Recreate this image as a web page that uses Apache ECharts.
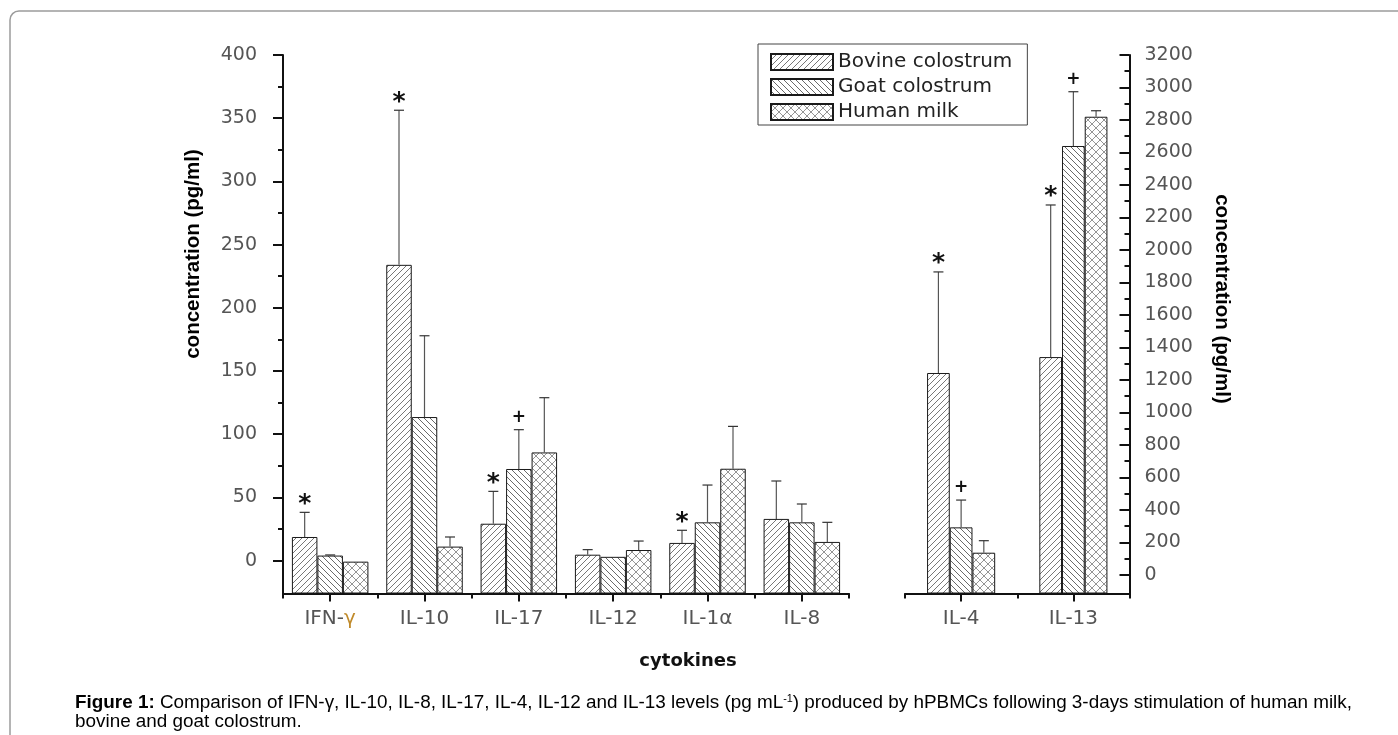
<!DOCTYPE html>
<html><head><meta charset="utf-8">
<script src="https://cdn.jsdelivr.net/npm/echarts@6/dist/echarts.min.js"></script>
<style>html,body{margin:0;padding:0;background:#fff}#c{width:1398px;height:735px}</style>
</head><body><div id="c"></div>
<script>
// ---------------- data ----------------
const leftCats = ['IFN-γ', 'IL-10', 'IL-17', 'IL-12', 'IL-1α', 'IL-8'];
const rightCats = ['IL-4', 'IL-13'];
const seriesNames = ['Bovine colostrum', 'Goat colostrum', 'Human milk'];

// left axis values (pg/ml)
const bovineLeft = [18.7, 234, 29.2, 4.7, 14.0, 33.0];
const goatLeft = [4.0, 113.6, 72.5, 3.0, 30.3, 30.3];
const humanLeft = [-0.8, 11.1, 85.6, 8.4, 72.7, 14.8];
const bovineLeftSD = [19.5, 122.3, 25.6, 4.0, 10.0, 30.0];
const goatLeftSD = [0.5, 64.3, 31.1, 0, 29.5, 14.5];
const humanLeftSD = [0, 7.6, 43.3, 7.1, 33.5, 15.5];
const bovineLeftMark = ['*', '*', '*', '', '*', ''];
const goatLeftMark = ['', '', '+', '', '', ''];
const humanLeftMark = ['', '', '', '', '', ''];

// right axis values (pg/ml)
const bovineRight = [1243, 1341];
const goatRight = [293, 2640];
const humanRight = [137, 2820];
const bovineRightSD = [622, 936];
const goatRightSD = [168, 334];
const humanRightSD = [74, 37];
const bovineRightMark = ['*', '*'];
const goatRightMark = ['+', '+'];
const humanRightMark = ['', ''];

// axes
const leftMin = -26, leftMax = 400;
const rightMin = -114, rightMax = 3200;
const leftTicks = [0, 50, 100, 150, 200, 250, 300, 350, 400];
const leftMinorTicks = [25, 75, 125, 175, 225, 275, 325, 375];
const rightTicks = [0, 200, 400, 600, 800, 1000, 1200, 1400, 1600, 1800, 2000, 2200, 2400, 2600, 2800, 3000, 3200];
const rightMinorTicks = [100, 300, 500, 700, 900, 1100, 1300, 1500, 1700, 1900, 2100, 2300, 2500, 2700, 2900, 3100];

const captionBold = 'Figure 1:';
const captionLine1 = ' Comparison of IFN-γ, IL-10, IL-8, IL-17, IL-4, IL-12 and IL-13 levels (pg mL';
const captionSup = '-1';
const captionLine1b = ') produced by hPBMCs following 3-days stimulation of human milk,';
const captionLine2 = 'bovine and goat colostrum.';

// ---------------- styling helpers ----------------
function hatch(kind, s, color, lw) {
  const c = document.createElement('canvas');
  c.width = s; c.height = s;
  const g = c.getContext('2d');
  g.fillStyle = '#fff'; g.fillRect(0, 0, s, s);
  g.strokeStyle = color; g.lineWidth = lw;
  const draw = (dir) => {
    for (let k = -1; k <= 1; k++) {
      g.beginPath();
      if (dir > 0) { g.moveTo(k * s, s); g.lineTo(k * s + s, 0); }
      else { g.moveTo(k * s, 0); g.lineTo(k * s + s, s); }
      g.stroke();
    }
  };
  if (kind === '/' || kind === 'x') draw(1);
  if (kind === '\\' || kind === 'x') draw(-1);
  return c;
}
const patterns = [
  { image: hatch('/', 6, '#555', 0.8), repeat: 'repeat' },
  { image: hatch('\\', 6, '#444', 0.8), repeat: 'repeat' },
  { image: hatch('x', 8, '#7a7a7a', 0.8), repeat: 'repeat' }
];

const BW_L = 25.5, BW_R = 22.7;
const FONT = 'DejaVu Sans';

function barSeries(name, data, k, xi, yi, bw) {
  return {
    type: 'bar', name, data, xAxisIndex: xi, yAxisIndex: yi,
    barWidth: bw, barGap: '0%',
    itemStyle: { color: patterns[k], borderColor: '#1a1a1a', borderWidth: 1 },
    z: 2
  };
}
function errSeries(means, sds, marks, k, xi, yi, bw) {
  const data = means.map((m, i) => [i, m, m + sds[i]]);
  return {
    type: 'custom', xAxisIndex: xi, yAxisIndex: yi, z: 5, silent: true,
    data,
    renderItem(params, api) {
      const i = api.value(0);
      const top = api.coord([i, api.value(2)]);
      const base = api.coord([i, api.value(1)]);
      const x = top[0] + (k - 1) * bw;
      const children = [];
      if (api.value(2) > api.value(1)) {
        children.push({ type: 'line', shape: { x1: x, y1: base[1], x2: x, y2: top[1] }, style: { stroke: '#555', lineWidth: 1.2 } });
        children.push({ type: 'line', shape: { x1: x - 5, y1: top[1], x2: x + 5, y2: top[1] }, style: { stroke: '#333', lineWidth: 1.2 } });
      }
      const mk = marks[params.dataIndex];
      if (mk) {
        const dy = mk === '*' ? 8 : 12;
        children.push({ type: 'text', x: x, y: top[1] - dy,
          style: { text: mk, font: mk === '*' ? 'bold 25px "DejaVu Sans"' : 'bold 17px "DejaVu Sans"', fill: '#111', align: 'center', verticalAlign: 'middle' } });
      }
      return { type: 'group', children };
    }
  };
}

function catAxis(gi, data, main) {
  return {
    type: 'category', gridIndex: gi, data, position: 'bottom',
    axisLine: { show: main, onZero: false, lineStyle: { color: '#111', width: 2 } },
    axisTick: { show: true, interval: 0, alignWithLabel: main, length: main ? 8 : 5, lineStyle: { color: '#111', width: 2 } },
    axisLabel: {
      show: main, interval: 0, margin: 15, color: '#555', fontFamily: FONT, fontSize: 20,
      formatter: v => v.replace('γ', '{g|γ}'),
      rich: { g: { color: '#c08a2a', fontFamily: FONT, fontSize: 20 } }
    },
    splitLine: { show: false }
  };
}
function valAxis(gi, pos, min, max, ticks, main, inside, margin) {
  return {
    type: 'value', gridIndex: gi, position: pos, min, max, startValue: min,
    splitNumber: main ? (pos === 'left' ? 8 : 16) : 16,
    axisLine: { show: main, onZero: false, lineStyle: { color: '#111', width: 2 } },
    axisTick: { show: true, inside, length: main ? 10 : 5, customValues: ticks, lineStyle: { color: '#111', width: 2 } },
    axisLabel: { show: main, customValues: main ? ticks : undefined, margin, color: '#555', fontFamily: FONT, fontSize: 19,
      formatter: v => (v < 0 ? '' : String(v)) },
    splitLine: { show: false }
  };
}

// caption width fit
const CAP_FS = 17.5;
const mctx = document.createElement('canvas').getContext('2d');
mctx.font = 'bold ' + CAP_FS + 'px "Liberation Sans"';
let cw = mctx.measureText(captionBold).width;
mctx.font = CAP_FS + 'px "Liberation Sans"';
cw += mctx.measureText(captionLine1 + captionLine1b).width;
mctx.font = '10px "Liberation Sans"';
cw += mctx.measureText(captionSup).width;
const capScale = 1277 / cw;

const chart = echarts.init(document.getElementById('c'), null, { renderer: 'canvas' });
chart.setOption({
  animation: false,
  backgroundColor: '#fff',
  grid: [
    { left: 283, right: 549, top: 55, bottom: 141.5, containLabel: false },
    { left: 905, right: 268.5, top: 55, bottom: 141.5, containLabel: false }
  ],
  xAxis: [catAxis(0, leftCats, true), catAxis(0, leftCats, false), catAxis(1, rightCats, true), catAxis(1, rightCats, false)],
  yAxis: [
    valAxis(0, 'left', leftMin, leftMax, leftTicks, true, false, 26),
    valAxis(0, 'left', leftMin, leftMax, leftMinorTicks, false, false, 26),
    valAxis(1, 'right', rightMin, rightMax, rightTicks, true, true, 15),
    valAxis(1, 'right', rightMin, rightMax, rightMinorTicks, false, true, 15)
  ],
  legend: {
    data: seriesNames, orient: 'vertical', left: 758, top: 44,
    padding: [8, 15, 3, 12], itemGap: 5, itemWidth: 62, itemHeight: 16,
    borderColor: '#444', borderWidth: 1, selectedMode: false, icon: 'rect',
    textStyle: { fontFamily: FONT, fontSize: 20, color: '#222' }
  },
  series: [
    barSeries(seriesNames[0], bovineLeft, 0, 0, 0, BW_L),
    barSeries(seriesNames[1], goatLeft, 1, 0, 0, BW_L),
    barSeries(seriesNames[2], humanLeft, 2, 0, 0, BW_L),
    barSeries(seriesNames[0], bovineRight, 0, 2, 2, BW_R),
    barSeries(seriesNames[1], goatRight, 1, 2, 2, BW_R),
    barSeries(seriesNames[2], humanRight, 2, 2, 2, BW_R),
    errSeries(bovineLeft, bovineLeftSD, bovineLeftMark, 0, 0, 0, BW_L),
    errSeries(goatLeft, goatLeftSD, goatLeftMark, 1, 0, 0, BW_L),
    errSeries(humanLeft, humanLeftSD, humanLeftMark, 2, 0, 0, BW_L),
    errSeries(bovineRight, bovineRightSD, bovineRightMark, 0, 2, 2, BW_R),
    errSeries(goatRight, goatRightSD, goatRightMark, 1, 2, 2, BW_R),
    errSeries(humanRight, humanRightSD, humanRightMark, 2, 2, 2, BW_R)
  ],
  graphic: [
    { type: 'rect', shape: { x: 10, y: 11, width: 1500, height: 800, r: 9 }, style: { fill: 'none', stroke: '#9c9c9c', lineWidth: 1.5 }, z: -1, silent: true },
    { type: 'text', x: 193, y: 254, rotation: Math.PI / 2, style: { text: 'concentration (pg/ml)', font: 'bold 20.5px "Liberation Sans"', fill: '#000', align: 'center', verticalAlign: 'middle' } },
    { type: 'text', x: 1222, y: 299, rotation: -Math.PI / 2, style: { text: 'concentration (pg/ml)', font: 'bold 20.5px "Liberation Sans"', fill: '#000', align: 'center', verticalAlign: 'middle' } },
    { type: 'text', x: 688, y: 661, style: { text: 'cytokines', font: 'bold 18px "DejaVu Sans"', fill: '#111', align: 'center', verticalAlign: 'middle' } },
    { type: 'text', x: 75, y: 703.5, scaleX: capScale,
      style: { text: '{b|' + captionBold + '}' + captionLine1 + '{s|' + captionSup + '}' + captionLine1b,
        font: CAP_FS + 'px "Liberation Sans"', fill: '#000', align: 'left', verticalAlign: 'middle',
        rich: { b: { fontWeight: 'bold', fontSize: CAP_FS, fontFamily: 'Liberation Sans' }, s: { fontSize: 10, fontFamily: 'Liberation Sans', verticalAlign: 'top', padding: [0, 0, 5, 0] } } } },
    { type: 'text', x: 75, y: 722.5, scaleX: capScale,
      style: { text: captionLine2, font: CAP_FS + 'px "Liberation Sans"', fill: '#000', align: 'left', verticalAlign: 'middle' } }
  ]
});
</script></body></html>
